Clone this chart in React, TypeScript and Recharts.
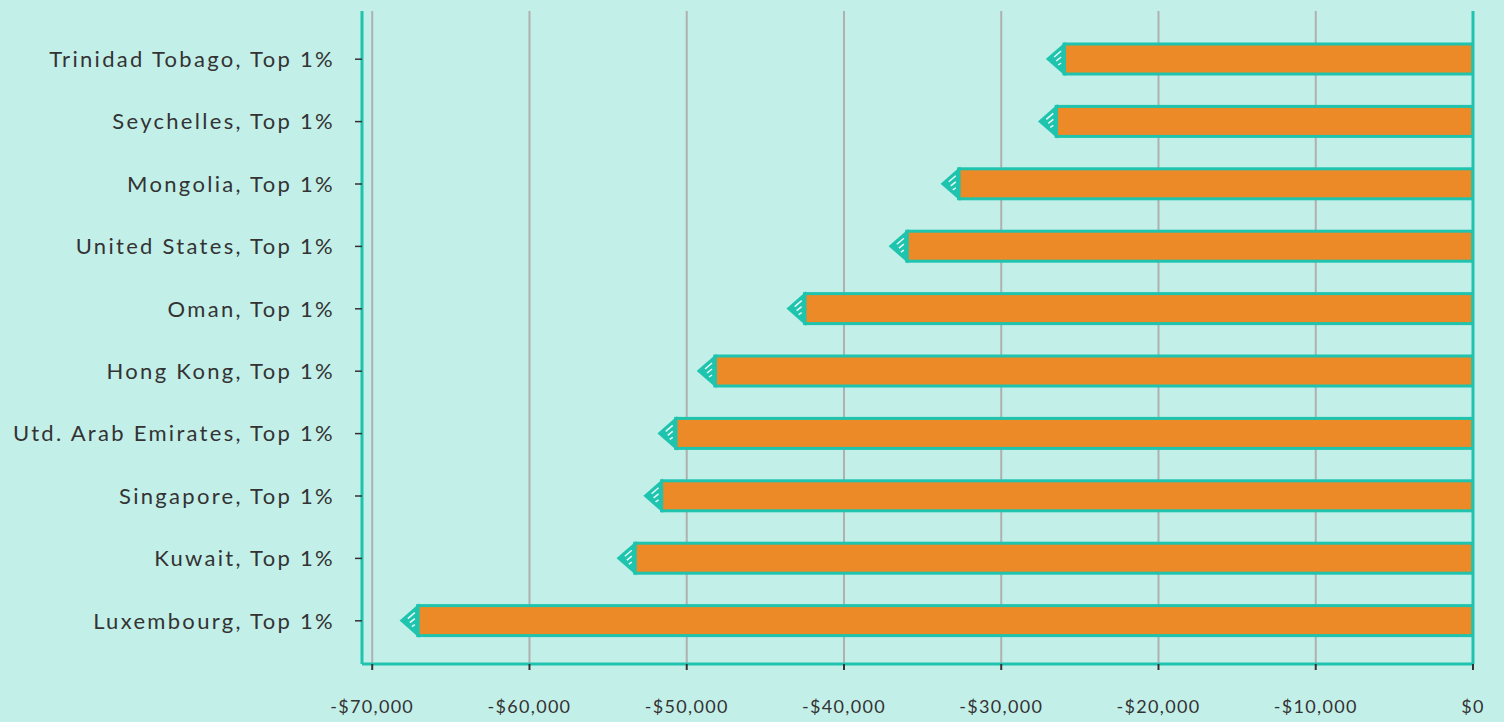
import { BarChart, Bar, XAxis, YAxis, CartesianGrid, ReferenceLine } from "recharts";

const countries = [
  "Trinidad Tobago, Top 1%",
  "Seychelles, Top 1%",
  "Mongolia, Top 1%",
  "United States, Top 1%",
  "Oman, Top 1%",
  "Hong Kong, Top 1%",
  "Utd. Arab Emirates, Top 1%",
  "Singapore, Top 1%",
  "Kuwait, Top 1%",
  "Luxembourg, Top 1%",
];

const values = [-26000, -26500, -32700, -36000, -42500, -48200, -50700, -51600, -53300, -67100];

const xTicks = [-70000, -60000, -50000, -40000, -30000, -20000, -10000, 0];

const data = countries.map((name, i) => ({ name, value: values[i] }));

const BG = "#c3efe9";
const TEAL = "#1fc4ae";
const ORANGE = "#ec8a27";
const TEXT = "#333333";

const fmt = (v: number) => (v < 0 ? `-$${Math.abs(v).toLocaleString("en-US")}` : `$${v}`);

// bar with a pointed cap on its far (left) end
function CappedBar(props: any) {
  const { x, y, width, height } = props;
  const left = Math.min(x, x + width);
  const w = Math.abs(width);
  const cy = y + height / 2;
  const tipW = 16;
  const half = 14;
  return (
    <g>
      <rect x={left} y={y} width={w} height={height} fill={ORANGE} stroke={TEAL} strokeWidth={3} />
      <polygon
        points={`${left - tipW},${cy} ${left},${cy - half} ${left},${cy + half}`}
        fill={TEAL}
        stroke={TEAL}
        strokeWidth={3}
      />
      <line x1={left - 10} y1={cy - 2} x2={left - 3} y2={cy - 8} stroke="#e8fbf8" strokeWidth={1.5} />
      <line x1={left - 8} y1={cy + 2} x2={left - 3} y2={cy - 2} stroke="#e8fbf8" strokeWidth={1.5} />
      <line x1={left - 6} y1={cy + 6} x2={left - 3} y2={cy + 4} stroke="#e8fbf8" strokeWidth={1.5} />
      <line x1={left} y1={y - 1} x2={left} y2={y + height + 1} stroke={TEAL} strokeWidth={3} />
    </g>
  );
}

export default function App() {
  return (
    <div
      style={{
        position: "absolute",
        left: 0,
        top: 0,
        width: 1504,
        height: 722,
        background: BG,
        fontFamily: "Lato, 'Noto Sans', sans-serif",
      }}
    >
      <BarChart
        layout="vertical"
        width={1504}
        height={722}
        data={data}
        margin={{ top: 11, right: 31, left: 0, bottom: 0 }}
        barSize={30}
      >
        <CartesianGrid horizontal={false} stroke="#b0b0b0" strokeWidth={2} />
        <XAxis
          type="number"
          domain={[-70650, 0]}
          ticks={xTicks}
          tickFormatter={fmt}
          height={58}
          axisLine={{ stroke: TEAL, strokeWidth: 3 }}
          tickLine={{ stroke: TEXT, strokeWidth: 2 }}
          tickSize={6}
          tickMargin={30}
          tick={{ fill: TEXT, fontSize: 18, letterSpacing: 1.3 }}
          allowDataOverflow
        />
        <YAxis
          type="category"
          dataKey="name"
          width={362}
          padding={{ top: 17, bottom: 12 }}
          axisLine={{ stroke: TEAL, strokeWidth: 3 }}
          tickLine={{ stroke: TEXT, strokeWidth: 1.5 }}
          tickSize={7}
          tickMargin={20}
          tick={{ fill: TEXT, fontSize: 22, letterSpacing: 2.3 }}
        />
        <ReferenceLine x={0} stroke={TEAL} strokeWidth={3} />
        <Bar dataKey="value" shape={<CappedBar />} isAnimationActive={false} />
      </BarChart>
    </div>
  );
}
